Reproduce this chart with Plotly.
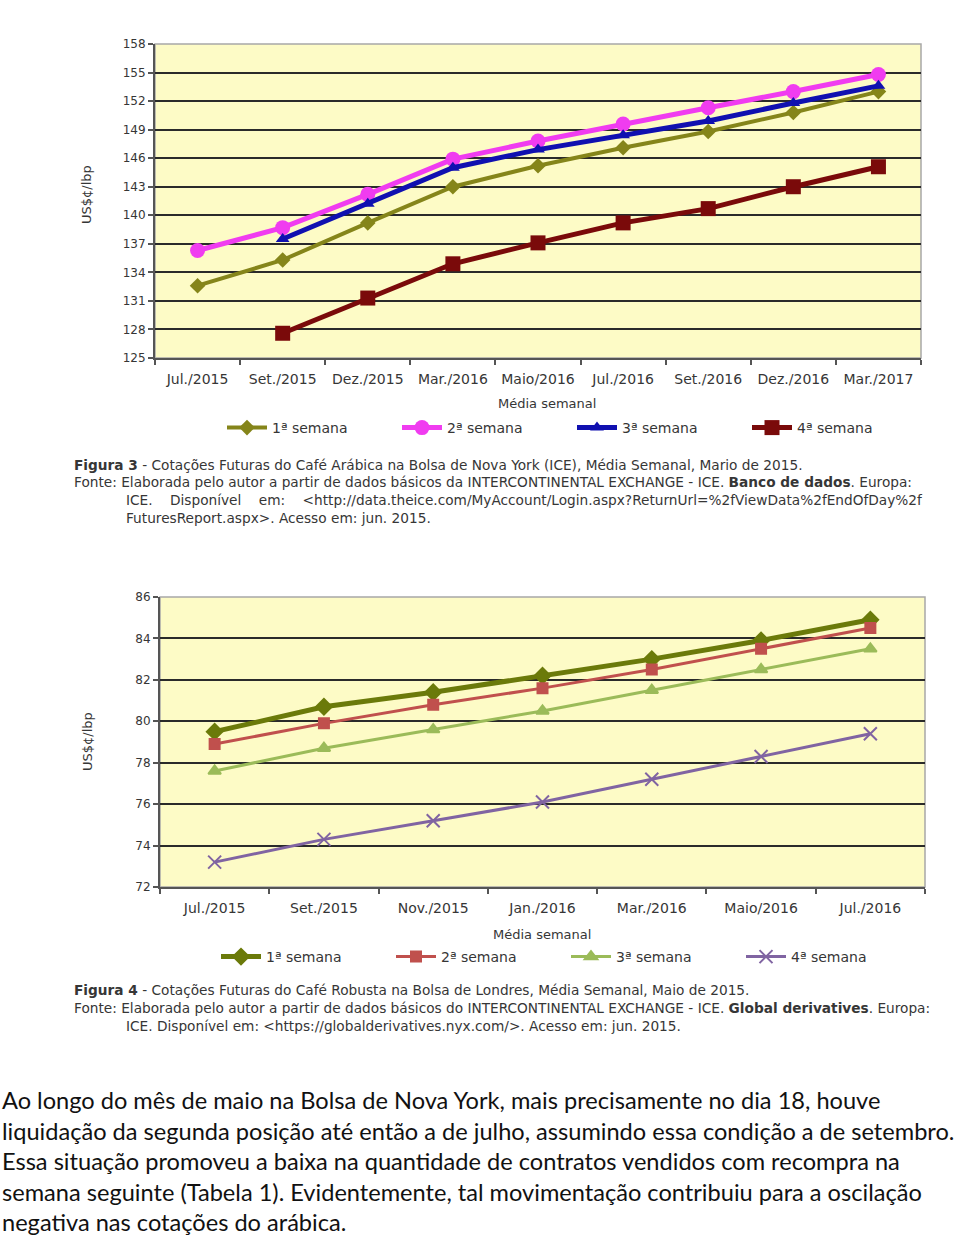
import plotly.graph_objects as go

# Figura 3 - café arábica (ICE Nova York)
meses_arabica = ['Jul./2015', 'Set./2015', 'Dez./2015', 'Mar./2016', 'Maio/2016',
                 'Jul./2016', 'Set./2016', 'Dez./2016', 'Mar./2017']
arabica_sem1 = [132.6, 135.3, 139.2, 143.0, 145.2, 147.1, 148.8, 150.8, 153.0]
arabica_sem2 = [136.3, 138.7, 142.2, 145.9, 147.8, 149.6, 151.3, 153.0, 154.8]
arabica_sem3 = [None, 137.5, 141.2, 145.0, 146.9, 148.4, 149.9, 151.8, 153.6]
arabica_sem4 = [None, 127.6, 131.3, 134.9, 137.1, 139.2, 140.7, 143.0, 145.1]

# Figura 4 - café robusta (Londres)
meses_robusta = ['Jul./2015', 'Set./2015', 'Nov./2015', 'Jan./2016', 'Mar./2016',
                 'Maio/2016', 'Jul./2016']
robusta_sem1 = [79.5, 80.7, 81.4, 82.2, 83.0, 83.9, 84.9]
robusta_sem2 = [78.9, 79.9, 80.8, 81.6, 82.5, 83.5, 84.5]
robusta_sem3 = [77.6, 78.7, 79.6, 80.5, 81.5, 82.5, 83.5]
robusta_sem4 = [73.2, 74.3, 75.2, 76.1, 77.2, 78.3, 79.4]

semanas = ['1ª semana', '2ª semana', '3ª semana', '4ª semana']

CHART_FONT = 'DejaVu Sans, Verdana, sans-serif'
TEXT_COLOR = '#363636'
W, H = 960, 1239


def px_x(v):
    return v / W


def px_y(v):
    return 1 - v / H


fig = go.Figure()

top_styles = [
    dict(color='#85851a', width=4, symbol='diamond', size=12),
    dict(color='#f03cf0', width=5, symbol='circle', size=15),
    dict(color='#1010b0', width=5, symbol='triangle-up', size=12),
    dict(color='#7a0a0a', width=5, symbol='square', size=15),
]
for nome, vals, st in zip(semanas, [arabica_sem1, arabica_sem2, arabica_sem3, arabica_sem4], top_styles):
    fig.add_trace(go.Scatter(
        x=meses_arabica, y=vals, name=nome, mode='lines+markers',
        line=dict(color=st['color'], width=st['width']),
        marker=dict(symbol=st['symbol'], size=st['size'], color=st['color']),
        xaxis='x', yaxis='y', legend='legend'
    ))

bottom_styles = [
    dict(color='#6b7a0a', width=5, symbol='diamond', size=12),
    dict(color='#c0504d', width=3, symbol='square', size=10),
    dict(color='#9bbb59', width=3, symbol='triangle-up', size=11),
    dict(color='#8064a2', width=3, symbol='x-thin', size=13),
]
for nome, vals, st in zip(semanas, [robusta_sem1, robusta_sem2, robusta_sem3, robusta_sem4], bottom_styles):
    fig.add_trace(go.Scatter(
        x=meses_robusta, y=vals, name=nome, mode='lines+markers',
        line=dict(color=st['color'], width=st['width']),
        marker=dict(symbol=st['symbol'], size=st['size'], color=st['color'],
                    line=dict(color=st['color'], width=2)),
        xaxis='x2', yaxis='y2', legend='legend2'
    ))

axis_common = dict(
    showline=True, linecolor='#555555', linewidth=2,
    ticks='outside', ticklen=5, tickcolor='#555555', tickwidth=1.5,
    zeroline=False, automargin=False,
)
xtick_font = dict(family=CHART_FONT, size=14, color=TEXT_COLOR)
ytick_font = dict(family=CHART_FONT, size=12, color=TEXT_COLOR)
legend_font = dict(family=CHART_FONT, size=14, color=TEXT_COLOR)

fig.update_layout(
    width=W, height=H,
    margin=dict(l=0, r=0, t=0, b=0),
    paper_bgcolor='white',
    plot_bgcolor='#fdfbc6',
    font=dict(family=CHART_FONT, color=TEXT_COLOR),
    xaxis=dict(axis_common, domain=[px_x(155), px_x(921)], anchor='y',
               type='category', range=[-0.5, len(meses_arabica) - 0.5],
               tickson='boundaries', showgrid=False, tickfont=xtick_font,
               ticklabelstandoff=7),
    yaxis=dict(axis_common, domain=[px_y(358), px_y(44)], anchor='x',
               range=[125, 158], dtick=3, tick0=125, tickfont=ytick_font,
               showgrid=True, gridcolor='#2a2a2a', gridwidth=1.5),
    xaxis2=dict(axis_common, domain=[px_x(160), px_x(925)], anchor='y2',
                type='category', range=[-0.5, len(meses_robusta) - 0.5],
                tickson='boundaries', showgrid=False, tickfont=xtick_font,
                ticklabelstandoff=7),
    yaxis2=dict(axis_common, domain=[px_y(887), px_y(597)], anchor='x2',
                range=[72, 86], dtick=2, tick0=72, tickfont=ytick_font,
                showgrid=True, gridcolor='#2a2a2a', gridwidth=1.5),
    legend=dict(orientation='h', x=px_x(222), y=px_y(428), yanchor='middle', xanchor='left',
                entrywidth=120, font=legend_font, bgcolor='rgba(0,0,0,0)', itemwidth=40),
    legend2=dict(orientation='h', x=px_x(216), y=px_y(957), yanchor='middle', xanchor='left',
                 entrywidth=120, font=legend_font, bgcolor='rgba(0,0,0,0)', itemwidth=40),
)

# moldura cinza do painel (lados superior e direito)
for xr, yr in [('x domain', 'y domain'), ('x2 domain', 'y2 domain')]:
    fig.add_shape(type='rect', xref=xr, yref=yr, x0=0, x1=1, y0=0, y1=1,
                  line=dict(color='#a8a8a8', width=1.5), layer='below')

anns = [
    dict(text='US$¢/lbp', x=px_x(87), y=px_y(195), textangle=-90),
    dict(text='US$¢/lbp', x=px_x(87), y=px_y(742), textangle=-90),
    dict(text='Média semanal', x=px_x(547), y=px_y(403)),
    dict(text='Média semanal', x=px_x(542), y=px_y(934)),
]
for a in anns:
    fig.add_annotation(text=a['text'], x=a['x'], y=a['y'], xref='paper', yref='paper',
                       xanchor='center', yanchor='middle',
                       showarrow=False, textangle=a.get('textangle', 0),
                       font=dict(family=CHART_FONT, size=13, color=TEXT_COLOR))

legendas = [
    ('<b>Figura 3</b> - Cotações Futuras do Café Arábica na Bolsa de Nova York (ICE), Média Semanal, Mario de 2015.', 72, 465),
    ('Fonte: Elaborada pelo autor a partir de dados básicos da INTERCONTINENTAL EXCHANGE - ICE. <b>Banco de dados</b>. Europa:', 72, 482),
    ('ICE.    Disponível    em:    &lt;http://data.theice.com/MyAccount/Login.aspx?ReturnUrl=%2fViewData%2fEndOfDay%2f', 124, 500),
    ('FuturesReport.aspx&gt;. Acesso em: jun. 2015.', 124, 518),
    ('<b>Figura 4</b> - Cotações Futuras do Café Robusta na Bolsa de Londres, Média Semanal, Maio de 2015.', 72, 990),
    ('Fonte: Elaborada pelo autor a partir de dados básicos do INTERCONTINENTAL EXCHANGE - ICE. <b>Global derivatives</b>. Europa:', 72, 1008),
    ('ICE. Disponível em: &lt;https://globalderivatives.nyx.com/&gt;. Acesso em: jun. 2015.', 124, 1026),
]
for txt, x0, y0 in legendas:
    fig.add_annotation(text=txt, x=px_x(x0), y=px_y(y0), xref='paper', yref='paper',
                       xanchor='left', yanchor='middle', showarrow=False,
                       font=dict(family=CHART_FONT, size=13.7, color=TEXT_COLOR))

corpo = [
    'Ao longo do mês de maio na Bolsa de Nova York, mais precisamente no dia 18, houve',
    'liquidação da segunda posição até então a de julho, assumindo essa condição a de setembro.',
    'Essa situação promoveu a baixa na quantidade de contratos vendidos com recompra na',
    'semana seguinte (Tabela 1). Evidentemente, tal movimentação contribuiu para a oscilação',
    'negativa nas cotações do arábica.',
]
for i, linha in enumerate(corpo):
    fig.add_annotation(text=linha, x=px_x(0), y=px_y(1100 + 30.5 * i), xref='paper', yref='paper',
                       xanchor='left', yanchor='middle', showarrow=False,
                       font=dict(family='Lato, Carlito, sans-serif', size=23.6, color='#111111'))

# sem a margem padrão do <body>, a figura ocupa a janela inteira
fig.write_html('out.html', config={'displayModeBar': False},
               post_script="document.body.style.margin='0';")
